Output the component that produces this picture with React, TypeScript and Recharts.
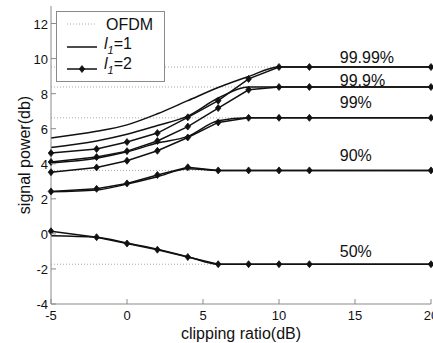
import { LineChart, Line, XAxis, YAxis, ReferenceLine, ReferenceDot, Label } from "recharts";

// clipping ratio (dB) sample points
const clipRatio = [-5, -2, 0, 2, 4, 6, 8, 10, 12, 20];

// signal power (db) per percentile, l1=1 (smooth) and l1=2 (marked)
const p9999L1 = [5.47, 5.85, 6.22, 6.85, 7.6, 8.35, 8.98, 9.52, 9.52, 9.52];
const p9999L2 = [4.61, 4.84, 5.24, 5.75, 6.65, 7.6, 8.84, 9.52, 9.52, 9.52];
const p999L1 = [4.93, 5.3, 5.68, 6.18, 6.72, 7.75, 8.38, 8.38, 8.38, 8.38];
const p999L2 = [4.1, 4.38, 4.72, 5.3, 6.12, 7.18, 8.22, 8.38, 8.38, 8.38];
const p99L1 = [4.05, 4.32, 4.68, 5.18, 5.56, 6.45, 6.62, 6.62, 6.62, 6.62];
const p99L2 = [3.52, 3.79, 4.17, 4.74, 5.5, 6.36, 6.62, 6.62, 6.62, 6.62];
const p90L1 = [2.4, 2.5, 2.84, 3.26, 3.72, 3.62, 3.62, 3.62, 3.62, 3.62];
const p90L2 = [2.42, 2.57, 2.88, 3.36, 3.8, 3.62, 3.62, 3.62, 3.62, 3.62];
const p50L1 = [-0.1, -0.19, -0.52, -0.88, -1.3, -1.73, -1.73, -1.73, -1.73, -1.73];
const p50L2 = [0.15, -0.19, -0.55, -0.9, -1.32, -1.73, -1.73, -1.73, -1.73, -1.73];

// OFDM reference levels and their percentile names
const ofdmLevels = [9.52, 8.38, 6.62, 3.62, -1.73];
const pctNames = ["99.99%", "99.9%", "99%", "90%", "50%"];

const xTicks = [-5, 0, 5, 10, 15, 20];
const yTicks = [-4, -2, 0, 2, 4, 6, 8, 10, 12];

const data = clipRatio.map((x, i) => ({
  x,
  p9999L1: p9999L1[i],
  p9999L2: p9999L2[i],
  p999L1: p999L1[i],
  p999L2: p999L2[i],
  p99L1: p99L1[i],
  p99L2: p99L2[i],
  p90L1: p90L1[i],
  p90L2: p90L2[i],
  p50L1: p50L1[i],
  p50L2: p50L2[i],
}));

const smoothKeys = ["p9999L1", "p999L1", "p99L1", "p90L1", "p50L1"];
const markedKeys = ["p9999L2", "p999L2", "p99L2", "p90L2", "p50L2"];

// pixels the percentile text sits above its OFDM line
const labelLift = [4, 1, 10, 9, 7];

const AXIS = "#8a8a8a";
const INK = "#111";
const FONT = '"Liberation Sans", Arial, sans-serif';

const Diamond = (props: any) => {
  const { cx, cy, key } = props;
  if (cx == null || cy == null) return <g key={key} />;
  return (
    <polygon
      key={key}
      points={`${cx},${cy - 3.5} ${cx + 2.8},${cy} ${cx},${cy + 3.5} ${cx - 2.8},${cy}`}
      fill={INK}
      stroke={INK}
      strokeWidth={0.8}
    />
  );
};

const BottomTick = ({ x, y, payload }: any) => (
  <g>
    <line x1={x} y1={y} x2={x} y2={y - 5} stroke={AXIS} />
    <text x={x} y={y + 16} textAnchor="middle" fontSize={13} fill={INK} fontFamily={FONT}>
      {payload.value}
    </text>
  </g>
);

const TopTick = ({ x, y }: any) => <line x1={x} y1={y} x2={x} y2={y + 5} stroke={AXIS} />;

const LeftTick = ({ x, y, payload }: any) => (
  <g>
    <line x1={x} y1={y} x2={x + 5} y2={y} stroke={AXIS} />
    <text x={x - 3} y={y + 5} textAnchor="end" fontSize={13} fill={INK} fontFamily={FONT}>
      {payload.value}
    </text>
  </g>
);

const RightTick = ({ x, y }: any) => <line x1={x} y1={y} x2={x - 5} y2={y} stroke={AXIS} />;

function LegendBox() {
  return (
    <svg width={110} height={72} style={{ position: "absolute", left: 56, top: 11 }}>
      <rect x={0.5} y={0.5} width={108} height={70} fill="#fff" stroke={AXIS} />
      <line x1={11} y1={13} x2={41} y2={13} stroke="#aaa" strokeDasharray="1 2" />
      <text x={50} y={19} fontSize={16} fill={INK} fontFamily={FONT}>
        OFDM
      </text>
      <line x1={11} y1={36} x2={41} y2={36} stroke={INK} strokeWidth={1.5} />
      <text x={48} y={38} fontSize={16} fill={INK} fontFamily={FONT}>
        <tspan fontStyle="italic">l</tspan>
        <tspan fontStyle="italic" fontSize={11} dy={5}>1</tspan>
        <tspan dy={-5}>=1</tspan>
      </text>
      <line x1={11} y1={58} x2={41} y2={58} stroke={INK} strokeWidth={1.5} />
      <Diamond cx={26} cy={58} />
      <text x={48} y={58} fontSize={16} fill={INK} fontFamily={FONT}>
        <tspan fontStyle="italic">l</tspan>
        <tspan fontStyle="italic" fontSize={11} dy={5}>1</tspan>
        <tspan dy={-5}>=2</tspan>
      </text>
    </svg>
  );
}

export default function App() {
  return (
    <div style={{ position: "absolute", left: 0, top: 0, width: 433, height: 343, background: "#fff", fontFamily: FONT }}>
      <LineChart width={433} height={343} data={data} margin={{ top: 6, right: 2, bottom: 0, left: 0 }}>
        <XAxis
          dataKey="x"
          type="number"
          domain={[-5, 20]}
          ticks={xTicks}
          height={39}
          stroke={AXIS}
          tickSize={0}
          tickMargin={0}
          tickLine={false}
          tick={<BottomTick />}
          interval={0}
        >
          <Label value="clipping ratio(dB)" position="insideBottom" offset={4} fontSize={16} fill={INK} fontFamily={FONT} />
        </XAxis>
        <XAxis
          xAxisId="top"
          orientation="top"
          dataKey="x"
          type="number"
          domain={[-5, 20]}
          ticks={xTicks}
          height={0}
          stroke={AXIS}
          tickSize={0}
          tickMargin={0}
          tickLine={false}
          tick={<TopTick />}
          interval={0}
        />
        <YAxis
          type="number"
          domain={[-4, 13]}
          ticks={yTicks}
          width={51}
          stroke={AXIS}
          tickSize={0}
          tickMargin={0}
          tickLine={false}
          tick={<LeftTick />}
          interval={0}
        >
          <Label value="signal power(db)" angle={-90} position="insideLeft" offset={24} fontSize={16} fill={INK} fontFamily={FONT} style={{ textAnchor: "middle" }} />
        </YAxis>
        <YAxis
          yAxisId="right"
          orientation="right"
          type="number"
          domain={[-4, 13]}
          ticks={yTicks}
          width={0}
          stroke={AXIS}
          tickSize={0}
          tickMargin={0}
          tickLine={false}
          tick={<RightTick />}
          interval={0}
        />
        {ofdmLevels.map((v) => (
          <ReferenceLine key={`ofdm-${v}`} y={v} stroke="#aaa" strokeDasharray="1 2" />
        ))}
        {smoothKeys.map((k) => (
          <Line key={k} dataKey={k} type="monotone" stroke={INK} strokeWidth={1.5} dot={false} isAnimationActive={false} />
        ))}
        {markedKeys.map((k) => (
          <Line key={k} dataKey={k} type="linear" stroke={INK} strokeWidth={1.5} dot={Diamond} activeDot={false} isAnimationActive={false} />
        ))}
        {ofdmLevels.map((v, i) => (
          <ReferenceDot
            key={`pct-${i}`}
            x={14}
            y={v}
            r={0}
            shape={(p: any) => (
              <text x={p.cx} y={p.cy - labelLift[i]} fontSize={16} fill={INK} fontFamily={FONT}>
                {pctNames[i]}
              </text>
            )}
          />
        ))}
      </LineChart>
      <LegendBox />
    </div>
  );
}
